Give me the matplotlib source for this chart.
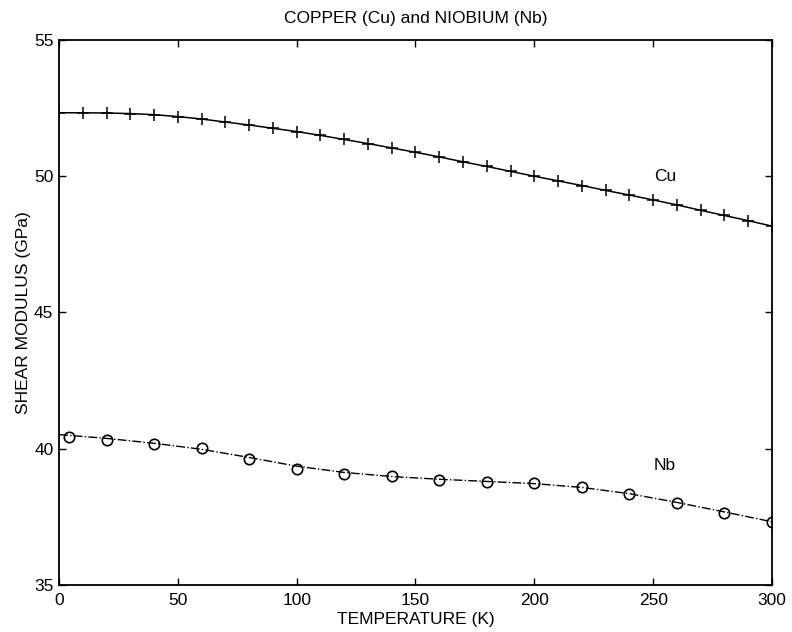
import matplotlib
matplotlib.use('Agg')
import matplotlib.pyplot as plt
import numpy as np

plt.rcParams['font.family'] = ['Liberation Sans', 'DejaVu Sans']

# copper: every 10 K
cu_temp = list(range(0, 301, 10))
cu_modulus = [52.33, 52.33, 52.32, 52.30, 52.26, 52.19, 52.10, 51.99, 51.88, 51.76,
              51.64, 51.50, 51.35, 51.20, 51.04, 50.88, 50.71, 50.53, 50.36, 50.18,
              50.00, 49.83, 49.66, 49.48, 49.31, 49.13, 48.95, 48.75, 48.56, 48.37,
              48.17]

# niobium measured points
nb_temp = [4, 20, 40, 60, 80, 100, 120, 140, 160, 180, 200, 220, 240, 260, 280, 300]
nb_modulus = [40.44, 40.32, 40.17, 40.02, 39.62, 39.25, 39.07, 38.99, 38.85, 38.79,
              38.73, 38.58, 38.34, 38.02, 37.63, 37.32]

# niobium fitted curve (dash-dot)
nb_fit_temp = [0, 20, 40, 60, 80, 100, 120, 140, 160, 180, 200, 220, 240, 260, 280, 300]
nb_fit_modulus = [40.52, 40.38, 40.20, 39.98, 39.68, 39.36, 39.13, 38.98, 38.88, 38.80,
                  38.72, 38.58, 38.35, 38.03, 37.68, 37.32]

fig = plt.figure(figsize=(7.92, 6.32), dpi=100)
ax = fig.add_axes([0.0745, 0.0744, 0.9002, 0.8623])

ax.plot(cu_temp, cu_modulus, color='black', linestyle='-', linewidth=1.1,
        marker='+', markersize=8, markeredgewidth=1.1)
ax.plot(nb_fit_temp, nb_fit_modulus, color='black', linestyle='-.', linewidth=1.0)
ax.plot(nb_temp, nb_modulus, color='black', linestyle='none',
        marker='o', markersize=7.5, markerfacecolor='none', markeredgewidth=1.2)

ax.text(255, 50.0, 'Cu', fontsize=12.5, ha='center', va='center')
ax.text(255, 39.4, 'Nb', fontsize=12.5, ha='center', va='center')

ax.set_xlim(0, 300)
ax.set_ylim(35, 55)
ax.set_xticks(np.arange(0, 301, 50))
ax.set_yticks(np.arange(35, 56, 5))
ax.tick_params(direction='in', top=True, right=True, labelsize=12.5, length=5, width=1)
ax.tick_params(axis='x', pad=6)
ax.tick_params(axis='y', pad=4)
for sp in ax.spines.values():
    sp.set_linewidth(1.3)

ax.set_title('COPPER (Cu) and NIOBIUM (Nb)', fontsize=12.5, pad=12)
ax.set_xlabel('TEMPERATURE (K)', fontsize=12.5, labelpad=3)
ax.set_ylabel('SHEAR MODULUS (GPa)', fontsize=12.5, labelpad=2)

fig.savefig('out.png', dpi=100)
